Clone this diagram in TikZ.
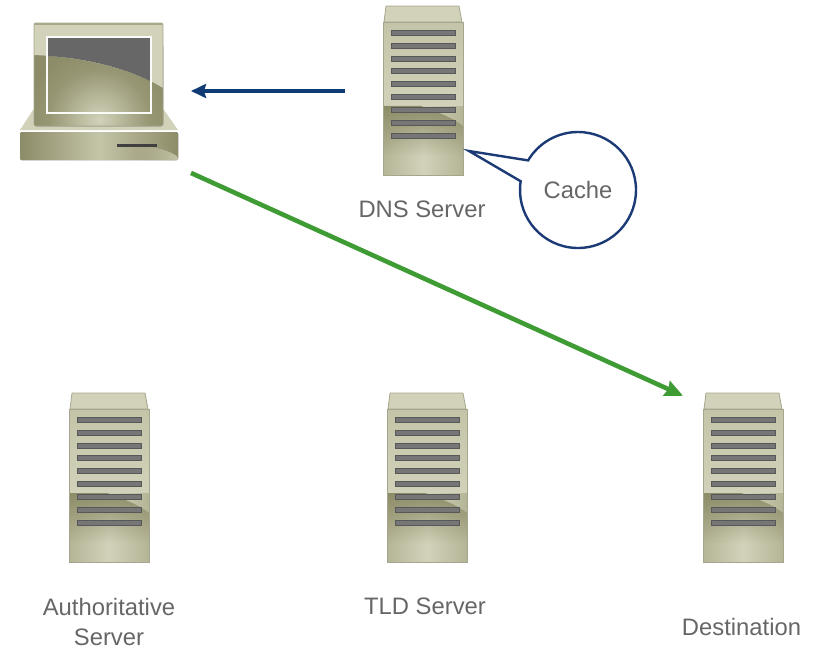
\documentclass[tikz,border=0pt]{standalone}
\usepackage{fontspec}
\setmainfont{Liberation Sans}
\usetikzlibrary{arrows.meta,shapes.callouts,fadings}

\definecolor{olivelight}{HTML}{D2D2BA}
\definecolor{olivemid}{HTML}{C4C4A8}
\definecolor{olivedark}{HTML}{8C8C68}
\definecolor{oliveedge}{HTML}{A6A68E}
\definecolor{slotgray}{HTML}{767676}
\definecolor{screengray}{HTML}{676767}
\definecolor{textgray}{HTML}{666666}
\definecolor{arrowblue}{HTML}{0F3A73}
\definecolor{bubbleblue}{HTML}{1C3A75}
\definecolor{arrowgreen}{HTML}{3F9C35}

\pgfdeclareradialshading{softglow}{\pgfpointorigin}{
  color(0bp)=(olivelight);
  color(8bp)=(olivelight!60!olivedark);
  color(17bp)=(olivelight!15!olivedark);
  color(25bp)=(olivedark);
  color(50bp)=(olivedark)}

\tikzset{
  caption/.style={text=textgray,font=\fontsize{23.8}{30}\selectfont,align=center,inner sep=0pt},
  serverpic/.pic={
    \node (-box) [inner sep=0pt,outer sep=0pt,minimum width=80pt,minimum height=170pt] at (40,84) {};
    % roof
    \fill[olivelight,draw=oliveedge,line width=.8pt,line join=round] (1,16) -- (3,0) -- (76,0) -- (79,16) -- cycle;
    % front, light part and dark part
    \fill[top color=olivemid,bottom color=olivelight] (0,16) rectangle (80,100);
    \fill[left color=olivemid!72!olivedark,right color=olivemid!72!olivedark,middle color=olivelight] (0,100) rectangle (80,169);
    \fill[olivedark,path fading=south] (0,100) -- (38,100) .. controls (55,106) and (70,112) .. (80,120) -- (80,150) -- (0,150) -- cycle;
    \draw[oliveedge,line width=.8pt] (0,16) rectangle (80,169);
    % slots
    \foreach \row in {0,...,8}
      \draw[fill=slotgray,draw=slotgray!75!black,line width=.6pt] (8,24+12.9*\row) rectangle (72,29+12.9*\row);
  }
}

\begin{document}
\begin{tikzpicture}[x=1pt,y=-1pt]
  \useasboundingbox (0,0) rectangle (813,649);

  % computer
  \node (pc-box) [inner sep=0pt,outer sep=0pt,minimum width=160pt,minimum height=145.5pt] at (99,94.75) {};
  \fill[olivelight] (33,110) -- (20,130) -- (178,130) -- (164,110) -- cycle;
  \fill[left color=olivedark,right color=olivedark,middle color=olivemid,rounded corners=1.5pt] (20,132) rectangle (178,160);
  \fill[olivemid,path fading=west,rounded corners=1.5pt] (135,146) .. controls (155,146) and (170,151) .. (178,157) -- (178,160) -- (135,160) -- cycle;
  \fill[black!75] (117,144) rectangle (157,147);
  % monitor
  \begin{scope}
    \clip[rounded corners=2pt] (34,23) rectangle (163,126);
    \fill[shading=softglow] (25,46) rectangle (173,194);
    \fill[olivedark] (34,23) rectangle (163,46);
    \fill[olivelight] (34,23) -- (163,23) -- (163,88) .. controls (135,70) and (85,57) .. (34,55) -- cycle;
    \fill[olivedark!60!olivelight] (34,23) rectangle (163,25);
  \end{scope}
  \draw[oliveedge,rounded corners=2pt,line width=.8pt] (34,23) rectangle (163,126);
  \fill[screengray] (47,37) -- (151,37) -- (151,81.5) .. controls (125,68) and (85,58) .. (47,56) -- cycle;
  \draw[white!90!olivelight,line width=1.5pt] (47,37) rectangle (151,113);

  % servers
  \pic (dns) at (383,6) {serverpic};
  \pic (auth) at (69,393) {serverpic};
  \pic (tld) at (387,393) {serverpic};
  \pic (dest) at (703,393) {serverpic};

  \node (dnslabel) [caption] at (422,209) {DNS Server};
  \node (authlabel) [caption] at (109,622) {Authoritative\\Server};
  \node (tldlabel) [caption] at (425,606) {TLD Server};
  \node (destlabel) [caption] at (741.5,627) {Destination};

  % cache bubble
  \node (cache) [ellipse callout,draw=bubbleblue,line width=2.4pt,fill=white,caption,
    minimum width=116pt,minimum height=116pt,callout pointer arc=22,
    callout absolute pointer={(469,151)}] at (578,190) {Cache};

  % arrows
  \draw[arrowblue,line width=3.6pt,-{Stealth[length=15pt,width=14pt,inset=2pt]},shorten <=38pt,shorten >=12pt] (dns-box.west |- 0,91) -- (pc-box.east |- 0,91);
  \draw[arrowgreen,line width=4.6pt,-{Stealth[length=18pt,width=16pt,inset=2pt]},shorten <=13.2pt,shorten >=21.9pt] (pc-box.south east) -- (dest-box.119);
\end{tikzpicture}
\end{document}
